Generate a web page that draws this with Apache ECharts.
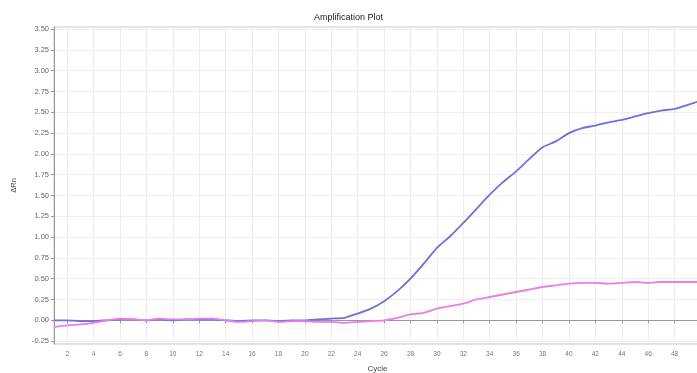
<!DOCTYPE html>
<html>
<head>
<meta charset="utf-8">
<script src="https://cdn.jsdelivr.net/npm/echarts@6/dist/echarts.min.js"></script>
<style>
  html, body { margin: 0; padding: 0; background: #fff; }
  #chart { width: 697px; height: 373px; }
</style>
</head>
<body>
<div id="chart"></div>
<script>
// Amplification curves (ΔRn per cycle) for two wells
const cycles = [1,2,3,4,5,6,7,8,9,10,11,12,13,14,15,16,17,18,19,20,21,22,23,24,25,
                26,27,28,29,30,31,32,33,34,35,36,37,38,39,40,41,42,43,44,45,46,47,48,49,50];
const blueDeltaRn = [0.00,0.00,-0.01,-0.01,0.00,0.01,0.01,0.00,0.01,0.00,0.01,0.01,0.01,0.00,-0.01,
                     0.00,0.00,-0.01,0.00,0.00,0.01,0.02,0.03,0.08,0.14,0.23,0.35,0.50,0.68,0.87,
                     1.01,1.17,1.34,1.51,1.66,1.79,1.94,2.08,2.15,2.25,2.31,2.34,2.38,2.41,2.45,
                     2.49,2.52,2.54,2.59,2.64];
const pinkDeltaRn = [-0.08,-0.06,-0.05,-0.03,0.00,0.02,0.01,0.00,0.02,0.01,0.01,0.02,0.02,0.00,-0.02,
                     -0.01,0.00,-0.02,-0.01,-0.01,-0.02,-0.02,-0.03,-0.02,-0.01,0.00,0.03,0.07,0.09,0.14,
                     0.17,0.20,0.25,0.28,0.31,0.34,0.37,0.40,0.42,0.44,0.45,0.45,0.44,0.45,0.46,
                     0.45,0.46,0.46,0.46,0.46];
const yTicks = [-0.25,0,0.25,0.5,0.75,1,1.25,1.5,1.75,2,2.25,2.5,2.75,3,3.25,3.5];
const xTicks = [2,4,6,8,10,12,14,16,18,20,22,24,26,28,30,32,34,36,38,40,42,44,46,48,50];

const pair = (ys) => cycles.map((c, i) => [c, ys[i]]);
const FONT = 'Liberation Sans, Arial, sans-serif';

const chart = echarts.init(document.getElementById('chart'), null, { renderer: 'canvas' });
chart.setOption({
  animation: false,
  title: {
    text: 'Amplification Plot',
    left: 'center',
    top: 8,
    textStyle: { fontFamily: FONT, fontSize: 9, fontWeight: 'normal', color: '#222' }
  },
  grid: {
    left: 54, top: 27, width: 647, height: 317,
    outerBoundsMode: 'none', containLabel: false,
    show: true, borderColor: '#dcdcdc', borderWidth: 1.5, backgroundColor: '#fff'
  },
  xAxis: {
    type: 'value', min: 1, max: 50,
    name: 'Cycle', nameLocation: 'middle', nameGap: 21,
    nameTextStyle: { fontFamily: FONT, fontSize: 8, color: '#444' },
    axisLine: { show: true, lineStyle: { color: '#999', width: 1 } },
    axisTick: { show: true, length: 3, lineStyle: { color: '#999' }, customValues: xTicks },
    axisLabel: { fontFamily: FONT, fontSize: 6.5, color: '#777', margin: 7, customValues: xTicks,
                 formatter: (v) => String(v) },
    splitLine: { show: true, lineStyle: { color: '#eeeeee', width: 1 } }
  },
  yAxis: {
    type: 'value', min: -0.285, max: 3.525,
    name: 'ΔRn', nameLocation: 'middle', nameGap: 36, nameRotate: 90,
    nameTextStyle: { fontFamily: FONT, fontSize: 7.5, color: '#444' },
    axisLine: { show: true, lineStyle: { color: '#999', width: 1 } },
    axisTick: { show: true, length: 3, lineStyle: { color: '#999' }, customValues: yTicks },
    axisLabel: { fontFamily: FONT, fontSize: 7.5, color: '#666', margin: 5, customValues: yTicks,
                 formatter: (v) => v.toFixed(2) },
    splitLine: { show: true, lineStyle: { color: '#eeeeee', width: 1 } }
  },
  series: [
    {
      name: 'Well A', type: 'line', data: pair(blueDeltaRn),
      showSymbol: false, smooth: 0.2,
      lineStyle: { color: '#7070dc', width: 1.8 }
    },
    {
      name: 'Well B', type: 'line', data: pair(pinkDeltaRn),
      showSymbol: false, smooth: 0.2,
      lineStyle: { color: '#ec7cec', width: 1.8 }
    }
  ]
});
</script>
</body>
</html>
